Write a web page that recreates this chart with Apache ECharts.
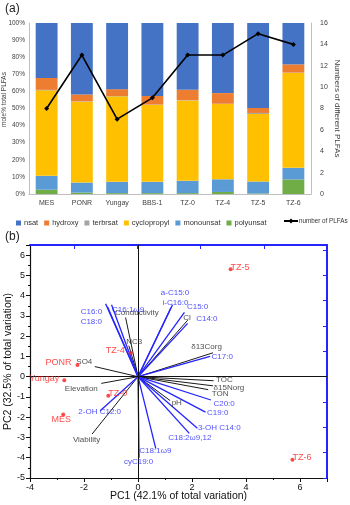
<!DOCTYPE html>
<html>
<head>
<meta charset="utf-8">
<script src="https://cdn.jsdelivr.net/npm/echarts@6/dist/echarts.min.js"></script>
<style>
  html, body { margin: 0; padding: 0; background: #fff; }
  #main { width: 350px; height: 505px; }
</style>
</head>
<body>
<div id="main"></div>
<script>
// ---- panel (a): PLFA composition, mole% of total ----
const sites = ['MES', 'PONR', 'Yungay', 'BBS-1', 'TZ-0', 'TZ-4', 'TZ-5', 'TZ-6'];
const polyunsat = [2.5, 0.8, 0.5, 0.5, 0.5, 1.2, 0.3, 8.5];
const monounsat = [8.1, 5.9, 6.6, 6.6, 7.2, 7.4, 7.0, 6.8];
const cyclopropyl = [50, 47.3, 50, 45, 47, 44, 39.5, 55.5];
const terbrsat = [0.3, 0.2, 0.2, 0.2, 0.2, 0.2, 0.6, 0.2];
const hydroxy = [7, 4, 4, 5, 6, 6.2, 2.9, 4.8];
const nsat = [32.1, 41.8, 38.7, 42.7, 39.1, 41, 49.7, 24.2];
const numPLFAs = [8, 13, 7, 9, 13, 13, 15, 14];

// ---- panel (b): PCA biplot ----
const sampleNames = ['TZ-5', 'TZ-4', 'PONR', 'Yungay', 'TZ-0', 'MES', 'TZ-6'];
const sampleScores = [[3.43, 5.3], [-0.27, 1.17], [-2.24, 0.58], [-2.73, -0.18], [-1.1, -0.94], [-2.77, -1.87], [5.72, -4.1]];

const plfaNames = ['C16:0', 'C18:0', 'C16:1\u03c99', 'a-C15:0', 'i-C16:0', 'C15:0', 'C14:0', 'C17:0',
  'C20:0', 'C19:0', '3-OH C14:0', 'C18:2\u03c99,12', 'C18:1\u03c99', 'cyC19:0', '2-OH C12:0'];
const plfaLoadings = [[-1.2, 3.6], [-1.13, 3.45], [-0.98, 3.55], [1.28, 3.55], [1.22, 3.4], [1.72, 3.18], [1.84, 2.63], [2.67, 1.0],
  [2.7, -1.15], [2.5, -1.75], [2.2, -2.55], [1.9, -2.8], [0.66, -3.55], [0.04, -4.0], [-1.4, -1.68]];

const envNames = ['Conductivity', 'NC3', 'SO4', 'Elevation', 'Viability', 'Cl', '\u03b413Corg', 'TOC', '\u03b415Norg', 'TON', 'pH'];
const envLoadings = [[-0.46, 2.92], [-0.34, 1.53], [-1.6, 0.5], [-1.36, -0.33], [-1.7, -2.83], [1.84, 2.79],
  [2.78, 1.18], [2.8, -0.2], [2.78, -0.45], [2.6, -0.64], [1.19, -1.18]];

// label placement (align, dx, dy) relative to the point
const labelPlace = {
  'C16:0': ['right', -3, 9], 'C18:0': ['right', -5, 16], 'C16:1\u03c99': ['left', 1, 6],
  'a-C15:0': ['center', 3, -11], 'i-C16:0': ['center', 5, -5], 'C15:0': ['left', 3, -5],
  'C14:0': ['left', 9, -4], 'C17:0': ['left', 2, 1], 'C20:0': ['left', 3, 4], 'C19:0': ['left', 2, 1],
  '3-OH C14:0': ['left', 1, 0], 'C18:2\u03c99,12': ['center', 1, 5], 'C18:1\u03c99': ['center', 0, 3],
  'cyC19:0': ['center', 0, 5], '2-OH C12:0': ['center', 0, 2],
  'Conductivity': ['left', -10, -4], 'NC3': ['left', -2, -3], 'SO4': ['right', -2, -4],
  'Elevation': ['right', -3, 6], 'Viability': ['center', -5, 6], 'Cl': ['left', -4, -2],
  '\u03b413Corg': ['center', -6, -5], 'TOC': ['left', 3, 0], '\u03b415Norg': ['left', 1, 2],
  'TON': ['left', 4, 5], 'pH': ['left', 2, 3],
  'TZ-5': ['left', 2, 0], 'TZ-4': ['right', -4, 0], 'PONR': ['right', -4, 0], 'Yungay': ['right', -3, 0],
  'TZ-0': ['left', 2, 0], 'MES': ['center', 0, 7], 'TZ-6': ['left', 2, 0]
};

const FONT = 'Liberation Sans, Arial, sans-serif';
const BLUE = '#2424ff';
const RED = '#ff1c1c';

function labelItems(names, coords, color, size) {
  return names.map((n, i) => {
    const p = labelPlace[n] || ['left', 2, 0];
    return {
      name: n,
      value: coords[i],
      label: {
        show: true,
        formatter: n,
        position: [p[1], p[2]],
        align: p[0],
        verticalAlign: 'middle',
        color: color,
        fontSize: size,
        fontFamily: FONT
      }
    };
  });
}

function vectorLines(coords) {
  return coords.map((c) => ({ coords: [[0, 0], c] }));
}

function barSeries(name, data, color) {
  return {
    name: name,
    type: 'bar',
    stack: 'plfa',
    xAxisIndex: 0,
    yAxisIndex: 0,
    barWidth: '62%',
    data: data,
    itemStyle: { color: color },
    emphasis: { disabled: true }
  };
}

const chart = echarts.init(document.getElementById('main'));

chart.setOption({
  animation: false,
  textStyle: { fontFamily: FONT },
  title: [
    { text: '(a)', left: 0, top: -2, textStyle: { fontSize: 12, fontWeight: 'normal', color: '#222', fontFamily: FONT } },
    { text: '(b)', left: 0, top: 226, textStyle: { fontSize: 12, fontWeight: 'normal', color: '#222', fontFamily: FONT } }
  ],
  legend: [
    {
      left: 11, top: 214,
      itemWidth: 5, itemHeight: 5, itemGap: 6,
      icon: 'rect',
      data: ['nsat', 'hydroxy', 'terbrsat', 'cyclopropyl', 'monounsat', 'polyunsat'],
      textStyle: { fontSize: 7.5, color: '#333', fontFamily: FONT, padding: [0, 0, 0, -2] }
    },
    {
      left: 278, top: 213,
      itemWidth: 14, itemHeight: 6,
      data: ['number of PLFAs'],
      textStyle: { fontSize: 6.3, color: '#333', fontFamily: FONT, padding: [0, 0, 0, -4] }
    }
  ],
  grid: [
    { left: 29, right: 39, top: 23, bottom: 311, outerBoundsMode: 'none' },
    { left: 30, right: 23, top: 245, bottom: 27, outerBoundsMode: 'none' }
  ],
  xAxis: [
    {
      type: 'category', gridIndex: 0, data: sites,
      axisLine: { lineStyle: { color: '#bfbfbf' } },
      axisTick: { show: false },
      axisLabel: { fontSize: 7, color: '#404040', margin: 6, interval: 0 }
    },
    {
      type: 'value', gridIndex: 1, min: -4, max: 7, interval: 2,
      name: 'PC1 (42.1% of total variation)', nameLocation: 'middle', nameGap: 13, nameMoveOverlap: false,
      nameTextStyle: { fontSize: 10.5, color: '#111' },
      axisLine: { onZero: false, lineStyle: { color: '#111', width: 1.2 } },
      axisTick: { length: 4, lineStyle: { color: '#111' } },
      minorTick: { show: true, splitNumber: 2, length: 2, lineStyle: { color: '#111' } },
      splitLine: { show: false },
      axisLabel: { fontSize: 9, color: '#111', margin: 5, showMaxLabel: false }
    },
    {
      type: 'value', gridIndex: 1, position: 'top', min: -0.85, max: 1.5,
      axisLine: { onZero: false, lineStyle: { color: BLUE, width: 2 } },
      axisTick: { inside: true, length: 4, lineStyle: { color: BLUE }, customValues: [-0.5, 0, 0.5, 1, 1.5] },
      axisLabel: { show: false },
      splitLine: { show: false }
    }
  ],
  yAxis: [
    {
      type: 'value', gridIndex: 0, min: 0, max: 100, interval: 10,
      name: 'mole% total PLFAs', nameLocation: 'middle', nameGap: 21, nameMoveOverlap: false,
      nameTextStyle: { fontSize: 6.5, color: '#404040', padding: [0, 0, 0, 18] },
      axisLine: { show: true, lineStyle: { color: '#bfbfbf' } },
      axisTick: { show: false },
      splitLine: { show: false },
      axisLabel: { fontSize: 6.5, color: '#404040', margin: 4, formatter: '{value}%' }
    },
    {
      type: 'value', gridIndex: 0, min: 0, max: 16, interval: 2, position: 'right',
      name: 'Numbers of different PLFAs', nameLocation: 'middle', nameGap: 22, nameRotate: -90, nameMoveOverlap: false,
      nameTextStyle: { fontSize: 8, color: '#404040' },
      axisLine: { show: true, lineStyle: { color: '#bfbfbf' } },
      axisTick: { show: false },
      splitLine: { show: false },
      axisLabel: { fontSize: 7, color: '#404040', margin: 9 }
    },
    {
      type: 'value', gridIndex: 1, min: -5, max: 6.5, interval: 1,
      name: 'PC2 (32.5% of total variation)', nameLocation: 'middle', nameGap: 16, nameMoveOverlap: false,
      nameTextStyle: { fontSize: 10.5, color: '#111' },
      axisLine: { onZero: false, lineStyle: { color: '#111', width: 1.2 } },
      axisTick: { length: 4, lineStyle: { color: '#111' } },
      minorTick: { show: true, splitNumber: 2, length: 2, lineStyle: { color: '#111' } },
      splitLine: { show: false },
      axisLabel: { fontSize: 9, color: '#111', margin: 5, showMaxLabel: false }
    },
    {
      type: 'value', gridIndex: 1, position: 'right', min: -0.8, max: 1.04, interval: 0.2,
      axisLine: { onZero: false, lineStyle: { color: BLUE, width: 2 } },
      axisTick: { inside: true, length: 4, lineStyle: { color: BLUE } },
      axisLabel: { show: false },
      splitLine: { show: false }
    }
  ],
  series: [
    barSeries('polyunsat', polyunsat, '#70ad47'),
    barSeries('monounsat', monounsat, '#5b9bd5'),
    barSeries('cyclopropyl', cyclopropyl, '#ffc000'),
    barSeries('terbrsat', terbrsat, '#a5a5a5'),
    barSeries('hydroxy', hydroxy, '#ed7d31'),
    barSeries('nsat', nsat, '#4472c4'),
    {
      name: 'number of PLFAs',
      type: 'line',
      xAxisIndex: 0,
      yAxisIndex: 1,
      data: numPLFAs,
      symbol: 'diamond',
      symbolSize: 5,
      itemStyle: { color: '#000' },
      lineStyle: { color: '#000', width: 1.6 },
      z: 5
    },
    // zero lines of the biplot
    {
      type: 'scatter',
      xAxisIndex: 1,
      yAxisIndex: 2,
      data: [],
      silent: true,
      markLine: {
        silent: true,
        symbol: 'none',
        label: { show: false },
        lineStyle: { color: '#111', type: 'solid', width: 1 },
        data: [{ xAxis: 0 }, { yAxis: 0 }]
      }
    },
    {
      type: 'lines',
      coordinateSystem: 'cartesian2d',
      xAxisIndex: 1,
      yAxisIndex: 2,
      silent: true,
      lineStyle: { color: '#1a1a1a', width: 1, opacity: 1 },
      data: vectorLines(envLoadings),
      z: 3
    },
    {
      type: 'lines',
      coordinateSystem: 'cartesian2d',
      xAxisIndex: 1,
      yAxisIndex: 2,
      silent: true,
      lineStyle: { color: BLUE, width: 1.3, opacity: 1 },
      data: vectorLines(plfaLoadings),
      z: 4
    },
    {
      type: 'scatter',
      xAxisIndex: 1,
      yAxisIndex: 2,
      symbolSize: 1,
      itemStyle: { color: 'rgba(0,0,0,0)' },
      silent: true,
      data: labelItems(plfaNames, plfaLoadings, BLUE, 8),
      z: 6
    },
    {
      type: 'scatter',
      xAxisIndex: 1,
      yAxisIndex: 2,
      symbolSize: 1,
      itemStyle: { color: 'rgba(0,0,0,0)' },
      silent: true,
      data: labelItems(envNames, envLoadings, '#1a1a1a', 8),
      z: 6
    },
    {
      type: 'scatter',
      xAxisIndex: 1,
      yAxisIndex: 2,
      symbolSize: 4,
      itemStyle: { color: RED },
      silent: true,
      data: labelItems(sampleNames, sampleScores, RED, 9),
      z: 7
    }
  ]
});
</script>
</body>
</html>
